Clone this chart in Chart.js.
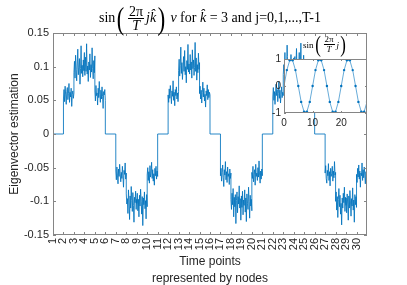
<!DOCTYPE html>
<html>
<head>
<meta charset="utf-8">
<script src="https://cdn.jsdelivr.net/npm/chart.js@4.4.1/dist/chart.umd.min.js"></script>
<style>
  html, body { margin: 0; padding: 0; background: #fff; }
  #wrap { position: relative; width: 407px; height: 285px; overflow: hidden; }
  #main { position: absolute; left: 0; top: 0; }
  #inset { position: absolute; left: 260px; top: 50px; }
  .ttl { position: absolute; transform: translateX(-50%); display: flex; align-items: center;
         font-family: 'Liberation Serif', serif; color: #000; white-space: nowrap; }
  .ttl i { font-style: italic; }
  .frac { display: inline-flex; flex-direction: column; align-items: center; margin: 0 2px; }
  .frac .num { border-bottom: 1px solid #000; padding: 0 1px; }
  .par { display: inline-block; transform: scaleX(0.7); font-weight: normal; }
  #title { left: 210px; top: 3px; font-size: 14px; }
  #title .frac { line-height: 13px; }
  #title .par { font-size: 32px; line-height: 30px; }
  #ititle { left: 325px; top: 33px; font-size: 9px; }
  #ititle .frac { line-height: 9px; }
  #ititle .par { font-size: 24px; line-height: 23px; }
</style>
</head>
<body>
<div id="wrap">
  <canvas id="main" width="407" height="287"></canvas>
  <canvas id="inset" width="120" height="85"></canvas>
  <div class="ttl" id="title">
    <span>sin</span><span class="par">(</span><span class="frac"><span class="num">2π</span><span><i>T</i></span></span><i>j</i><i>k̂</i><span class="par">)</span><span>&nbsp;<i>v</i> for <i>k̂</i> = 3 and j=0,1,...,T-1</span>
  </div>
  <div class="ttl" id="ititle">
    <span>sin</span><span class="par">(</span><span class="frac"><span class="num">2π</span><span><i>T</i></span></span><i>j</i><span class="par">)</span>
  </div>
</div>
<script>
// ---- data ----
const xTicks = [1, 2, 3, 4, 5, 6, 7, 8, 9, 10, 11, 12, 13, 14, 15, 16, 17, 18, 19, 20, 21, 22, 23, 24, 25, 26, 27, 28, 29, 30];
const yTicks = [-0.15, -0.1, -0.05, 0, 0.05, 0.1, 0.15];
const yTickLabels = ['-0.15', '-0.1', '-0.05', '0', '0.05', '0.1', '0.15'];

// samples of the estimate inside each node (node 1 .. node 30)
const nodeSamples = [
  [0, 0],
  [0.052, 0.066, 0.048, 0.071, 0.058, 0.044, 0.063, 0.069, 0.051, 0.060, 0.075, 0.047, 0.062, 0.055, 0.068, 0.041, 0.059, 0.064, 0.053, 0.061],
  [0.091, 0.108, 0.083, 0.117, 0.096, 0.079, 0.104, 0.126, 0.088, 0.099, 0.112, 0.074, 0.097, 0.131, 0.090, 0.102, 0.085, 0.110, 0.094, 0.121],
  [0.098, 0.087, 0.114, 0.093, 0.134, 0.089, 0.101, 0.078, 0.107, 0.095, 0.119, 0.084, 0.103, 0.092, 0.128, 0.097, 0.082, 0.109, 0.091, 0.116],
  [0.064, 0.049, 0.072, 0.057, 0.061, 0.043, 0.068, 0.054, 0.078, 0.059, 0.047, 0.065, 0.052, 0.070, 0.056, 0.038, 0.063, 0.058, 0.066, 0.050],
  [0, 0],
  [-0.055, -0.068, -0.049, -0.061, -0.074, -0.052, -0.063, -0.045, -0.059, -0.071, -0.057, -0.066, -0.048, -0.062, -0.079, -0.054, -0.060, -0.043, -0.067, -0.058],
  [-0.089, -0.104, -0.096, -0.118, -0.083, -0.101, -0.127, -0.092, -0.110, -0.078, -0.099, -0.115, -0.087, -0.106, -0.131, -0.094, -0.102, -0.085, -0.112, -0.097],
  [-0.103, -0.088, -0.114, -0.097, -0.123, -0.091, -0.107, -0.082, -0.100, -0.119, -0.093, -0.136, -0.095, -0.105, -0.086, -0.111, -0.099, -0.126, -0.090, -0.108],
  [-0.061, -0.050, -0.069, -0.056, -0.073, -0.047, -0.064, -0.058, -0.042, -0.066, -0.053, -0.070, -0.059, -0.076, -0.051, -0.062, -0.048, -0.067, -0.055, -0.063],
  [0, 0],
  [0.058, 0.047, 0.067, 0.053, 0.072, 0.060, 0.045, 0.064, 0.056, 0.079, 0.050, 0.062, 0.042, 0.066, 0.057, 0.070, 0.052, 0.061, 0.048, 0.063],
  [0.094, 0.111, 0.086, 0.102, 0.129, 0.090, 0.106, 0.081, 0.098, 0.115, 0.093, 0.124, 0.088, 0.100, 0.076, 0.109, 0.096, 0.133, 0.092, 0.104],
  [0.101, 0.089, 0.118, 0.095, 0.107, 0.083, 0.125, 0.097, 0.110, 0.087, 0.099, 0.136, 0.093, 0.113, 0.080, 0.103, 0.091, 0.120, 0.096, 0.106],
  [0.060, 0.071, 0.052, 0.065, 0.046, 0.062, 0.077, 0.055, 0.068, 0.049, 0.059, 0.040, 0.064, 0.057, 0.073, 0.051, 0.066, 0.054, 0.062, 0.058],
  [0, 0],
  [-0.062, -0.051, -0.070, -0.057, -0.046, -0.065, -0.078, -0.053, -0.061, -0.041, -0.068, -0.056, -0.072, -0.049, -0.063, -0.059, -0.075, -0.052, -0.066, -0.058],
  [-0.097, -0.112, -0.088, -0.105, -0.081, -0.123, -0.094, -0.108, -0.090, -0.133, -0.099, -0.086, -0.117, -0.093, -0.104, -0.077, -0.110, -0.096, -0.128, -0.101],
  [-0.092, -0.109, -0.085, -0.120, -0.098, -0.106, -0.083, -0.116, -0.095, -0.130, -0.089, -0.103, -0.112, -0.079, -0.100, -0.125, -0.091, -0.107, -0.097, -0.114],
  [-0.057, -0.066, -0.048, -0.071, -0.060, -0.053, -0.076, -0.045, -0.063, -0.058, -0.069, -0.050, -0.064, -0.040, -0.061, -0.073, -0.055, -0.067, -0.052, -0.062],
  [0, 0],
  [0.055, 0.069, 0.050, 0.063, 0.044, 0.061, 0.074, 0.057, 0.066, 0.048, 0.060, 0.078, 0.053, 0.065, 0.046, 0.059, 0.070, 0.054, 0.062, 0.057],
  [0.088, 0.103, 0.095, 0.121, 0.084, 0.107, 0.092, 0.132, 0.098, 0.080, 0.111, 0.094, 0.101, 0.087, 0.118, 0.090, 0.105, 0.077, 0.099, 0.113],
  [0.106, 0.092, 0.115, 0.086, 0.100, 0.127, 0.094, 0.109, 0.082, 0.097, 0.121, 0.090, 0.104, 0.135, 0.093, 0.108, 0.085, 0.099, 0.117, 0.096],
  [0.063, 0.052, 0.070, 0.047, 0.059, 0.067, 0.043, 0.061, 0.076, 0.055, 0.064, 0.050, 0.068, 0.057, 0.039, 0.062, 0.071, 0.053, 0.060, 0.056],
  [0, 0],
  [-0.058, -0.047, -0.066, -0.073, -0.054, -0.062, -0.044, -0.069, -0.056, -0.077, -0.051, -0.063, -0.059, -0.048, -0.070, -0.055, -0.065, -0.041, -0.061, -0.057],
  [-0.100, -0.086, -0.113, -0.093, -0.124, -0.097, -0.081, -0.108, -0.091, -0.119, -0.103, -0.135, -0.095, -0.110, -0.088, -0.102, -0.079, -0.115, -0.094, -0.106],
  [-0.095, -0.117, -0.089, -0.104, -0.128, -0.092, -0.110, -0.084, -0.101, -0.122, -0.096, -0.107, -0.080, -0.113, -0.098, -0.131, -0.090, -0.105, -0.093, -0.109],
  [-0.060, -0.072, -0.051, -0.064, -0.046, -0.067, -0.055, -0.079, -0.058, -0.062, -0.043, -0.069, -0.053, -0.065, -0.049, -0.061, -0.074, -0.056, -0.063, -0.059]
];

// inset: sin(2*pi/T*j), j = 0..29
const insetJ = [0, 1, 2, 3, 4, 5, 6, 7, 8, 9, 10, 11, 12, 13, 14, 15, 16, 17, 18, 19, 20, 21, 22, 23, 24, 25, 26, 27, 28, 29];
const insetValues = [0, 0.588, 0.951, 0.951, 0.588, 0, -0.588, -0.951, -0.951, -0.588,
                     0, 0.588, 0.951, 0.951, 0.588, 0, -0.588, -0.951, -0.951, -0.588,
                     0, 0.588, 0.951, 0.951, 0.588, 0, -0.588, -0.951, -0.951, -0.588];
const insetXTicks = [0, 10, 20];
const insetYTicks = [-1, 0, 1];

const lineBlue = '#0072BD';
const axisGrey = '#858585';
const textDark = '#262626';

// spread each node's samples across [node, node+1)
const points = [];
nodeSamples.forEach((arr, i) => {
  const node = i + 1;
  arr.forEach((v, k) => {
    points.push({ x: node + 0.999 * k / (arr.length - 1), y: v });
  });
});

// MATLAB-like box with inward ticks on all four sides
const boxTicks = {
  id: 'boxTicks',
  beforeDraw(chart, args, opts) {
    if (!opts.fill) return;
    const a = chart.chartArea;
    chart.ctx.save();
    chart.ctx.fillStyle = opts.fill;
    chart.ctx.fillRect(a.left, a.top, a.right - a.left, a.bottom - a.top);
    chart.ctx.restore();
  },
  afterDraw(chart, args, opts) {
    const { ctx, chartArea: a, scales: { x, y } } = chart;
    const len = opts.len || 3;
    ctx.save();
    ctx.strokeStyle = axisGrey;
    ctx.lineWidth = 1;
    ctx.beginPath();
    x.ticks.forEach(t => {
      const px = Math.round(x.getPixelForValue(t.value)) + 0.5;
      ctx.moveTo(px, a.bottom); ctx.lineTo(px, a.bottom - len);
      ctx.moveTo(px, a.top); ctx.lineTo(px, a.top + len);
    });
    y.ticks.forEach(t => {
      const py = Math.round(y.getPixelForValue(t.value)) + 0.5;
      ctx.moveTo(a.left, py); ctx.lineTo(a.left + len, py);
      ctx.moveTo(a.right, py); ctx.lineTo(a.right - len, py);
    });
    ctx.stroke();
    ctx.strokeRect(Math.round(a.left) + 0.5, Math.round(a.top) + 0.5,
                   Math.round(a.right - a.left) - 1, Math.round(a.bottom - a.top) - 1);
    ctx.restore();
  }
};

const tickFont = { family: 'Liberation Sans, Arial, sans-serif', size: 11 };

new Chart(document.getElementById('main'), {
  type: 'line',
  data: {
    datasets: [{
      data: points,
      borderColor: lineBlue,
      borderWidth: 0.85,
      borderDash: [5000, 0],
      pointRadius: 0,
      tension: 0,
      fill: false
    }]
  },
  options: {
    responsive: false,
    animation: false,
    events: [],
    layout: { padding: { top: 33, right: 40, left: 0, bottom: 0 } },
    plugins: { legend: { display: false }, tooltip: { enabled: false }, boxTicks: { len: 3 } },
    scales: {
      x: {
        type: 'linear', min: 1, max: 31,
        afterBuildTicks: s => { s.ticks = xTicks.map(v => ({ value: v })); },
        afterFit: s => { s.height = 52; },
        grid: { display: false, drawTicks: false },
        border: { display: false },
        ticks: { autoSkip: false, minRotation: 90, maxRotation: 90, padding: 3, color: textDark, font: tickFont },
        title: {
          display: true, text: ['Time points', 'represented by nodes'], color: textDark,
          font: { family: 'Liberation Sans, Arial, sans-serif', size: 12, lineHeight: '16.6px' },
          padding: { top: 0, bottom: 0 }
        }
      },
      y: {
        min: -0.15, max: 0.15,
        afterBuildTicks: s => { s.ticks = yTicks.map(v => ({ value: v })); },
        afterFit: s => { s.width = 53; },
        grid: { display: false, drawTicks: false },
        border: { display: false },
        ticks: {
          padding: 4, color: textDark, font: tickFont,
          callback: v => yTickLabels[yTicks.indexOf(v)]
        },
        title: {
          display: true, text: 'Eigenvector estimation', color: textDark,
          font: { family: 'Liberation Sans, Arial, sans-serif', size: 12 },
          padding: { top: 7, bottom: 0 }
        }
      }
    }
  },
  plugins: [boxTicks]
});

new Chart(document.getElementById('inset'), {
  type: 'line',
  data: {
    labels: insetJ,
    datasets: [{
      data: insetJ.map((j, i) => ({ x: j, y: insetValues[i] })),
      borderColor: lineBlue,
      borderWidth: 0.6,
      pointRadius: 1.2,
      pointBorderWidth: 0,
      pointBackgroundColor: lineBlue,
      tension: 0
    }]
  },
  options: {
    responsive: false,
    animation: false,
    events: [],
    layout: { padding: { top: 8, right: 13, left: 0, bottom: 0 } },
    plugins: { legend: { display: false }, tooltip: { enabled: false }, boxTicks: { len: 2, fill: '#fff' } },
    scales: {
      x: {
        type: 'linear', min: 0, max: 29,
        afterBuildTicks: s => { s.ticks = insetXTicks.map(v => ({ value: v })); },
        afterFit: s => { s.height = 22; },
        grid: { display: false, drawTicks: false },
        border: { display: false },
        ticks: { padding: 4, maxRotation: 0, color: textDark, font: { family: 'Liberation Sans, Arial, sans-serif', size: 10 } }
      },
      y: {
        min: -1, max: 1,
        afterBuildTicks: s => { s.ticks = insetYTicks.map(v => ({ value: v })); },
        afterFit: s => { s.width = 24; },
        grid: { display: false, drawTicks: false },
        border: { display: false },
        ticks: { padding: 3, color: textDark, font: { family: 'Liberation Sans, Arial, sans-serif', size: 10 } }
      }
    }
  },
  plugins: [boxTicks]
});
</script>
</body>
</html>
